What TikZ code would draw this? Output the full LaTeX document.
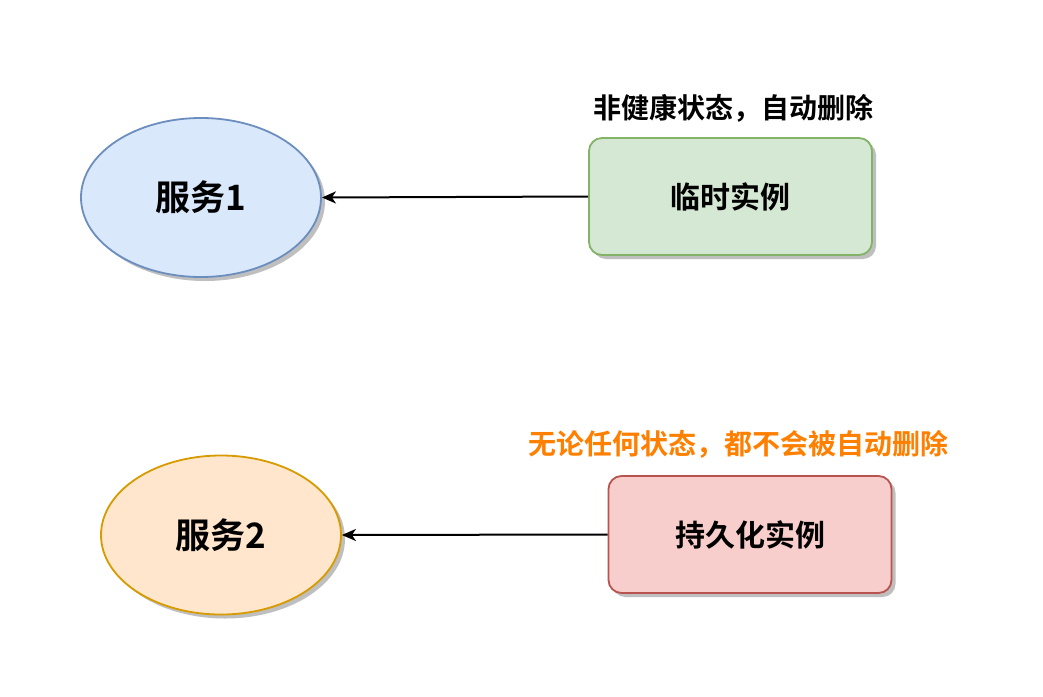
\documentclass[tikz,border=0pt]{standalone}
\usepackage{fontspec}
\newfontfamily\cjk{Noto Sans CJK SC Bold}
\usetikzlibrary{shapes.geometric,shadows,arrows.meta}
\definecolor{bluefill}{HTML}{DAE8FC}\definecolor{bluedraw}{HTML}{6C8EBF}
\definecolor{orfill}{HTML}{FFE6CC}\definecolor{ordraw}{HTML}{D79B00}
\definecolor{grfill}{HTML}{D5E8D4}\definecolor{grdraw}{HTML}{82B366}
\definecolor{rdfill}{HTML}{F8CECC}\definecolor{rddraw}{HTML}{B85450}
\definecolor{orangetext}{HTML}{FF8000}
\begin{document}
\begin{tikzpicture}[x=1pt,y=-1pt,
  shad/.style={drop shadow={shadow xshift=4pt,shadow yshift=-4pt,fill=black!25,opacity=1}},
  svc/.style={ellipse,shad,line width=1.8pt,minimum width=240pt,minimum height=159pt,inner sep=0pt,font=\cjk\fontsize{35}{40}\selectfont},
  inst/.style={rectangle,rounded corners=13pt,shad,line width=1.8pt,minimum width=283pt,minimum height=117pt,inner sep=0pt,font=\cjk\fontsize{30}{36}\selectfont},
  lbl/.style={font=\cjk\fontsize{28}{34}\selectfont,inner sep=0pt},
  conn/.style={line width=2pt,-{Stealth[length=14pt,width=12pt,inset=4pt]}}]
\useasboundingbox[fill=white] (0,0) rectangle (1043,696);
\node[svc,fill=bluefill,draw=bluedraw] (s1) at (201,197.5) {服务1};
\node[svc,fill=orfill,draw=ordraw] (s2) at (221,535) {服务2};
\node[inst,fill=grfill,draw=grdraw] (i1) at (730.5,196.5) {临时实例};
\node[inst,fill=rdfill,draw=rddraw] (i2) at (750,534.5) {持久化实例};
\node[lbl] (l1) at (733,108) {非健康状态，自动删除};
\node[lbl,text=orangetext] (l2) at (738,444) {无论任何状态，都不会被自动删除};
\draw[conn] (i1.west) -- (s1.east);
\draw[conn] (i2.west) -- (s2.east);
\end{tikzpicture}
\end{document}
